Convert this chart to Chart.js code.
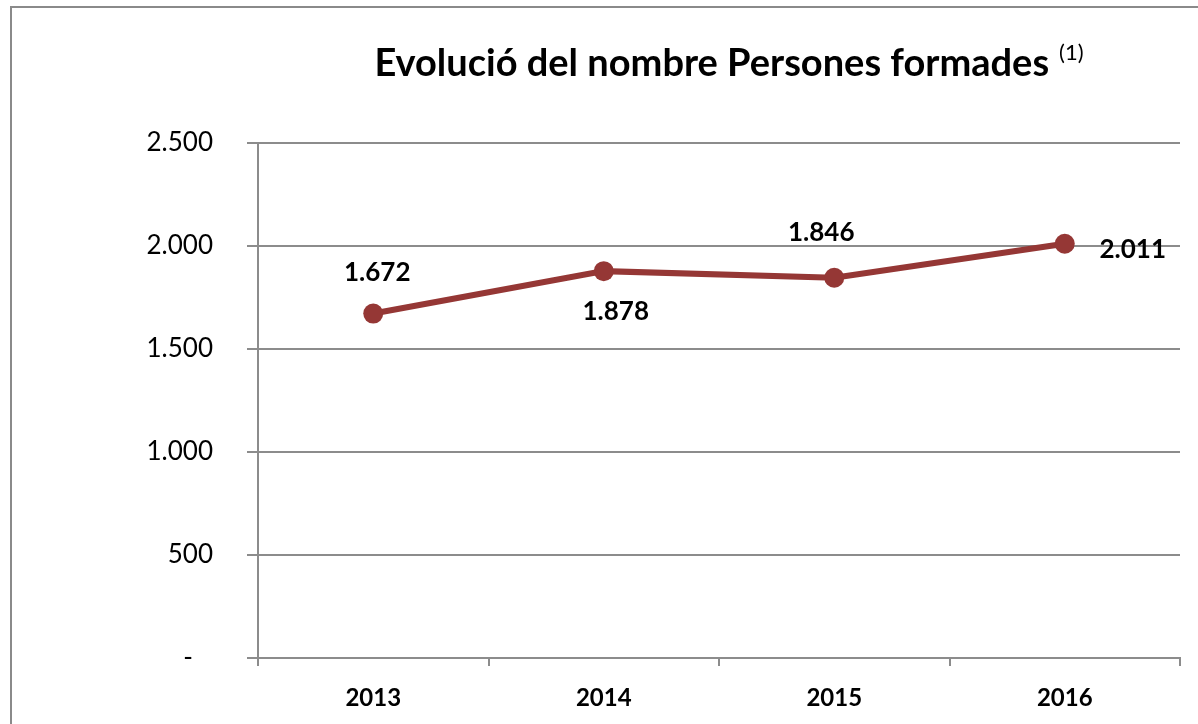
<!DOCTYPE html>
<html>
<head>
<meta charset="utf-8">
<script src="https://cdn.jsdelivr.net/npm/chart.js@4.4.1/dist/chart.umd.min.js"></script>
<style>
  html, body { margin: 0; padding: 0; background: #fff; overflow: hidden; }
  .frame { position: absolute; left: 10px; top: 6px; width: 1210px; height: 740px; border: 2px solid #8a8a8a; }
  .wrap { position: absolute; left: 0; top: 0; width: 1198px; height: 724px; }
</style>
</head>
<body>
<div class="frame"></div>
<div class="wrap"><canvas id="chart"></canvas></div>
<script>
const years = ['2013', '2014', '2015', '2016']
const persones = [1672, 1878, 1846, 2011]
const titleText = 'Evolució del nombre Persones formades'
const titleNote = '(1)'

// where each value label sits relative to its point
const labelOffsets = [[4, -41], [12, 40], [-13, -45], [68, 6]]

const FONT = 'Lato, "Open Sans", sans-serif'
const LINE_COLOR = '#953735'

const fmt = (v) => v.toString().replace(/\B(?=(\d{3})+(?!\d))/g, '.')

const titlePlugin = {
    id: 'titleWithNote',
    afterDraw (chart) {
        const ctx = chart.ctx
        const area = chart.chartArea
        ctx.save()
        ctx.fillStyle = '#000'
        ctx.textBaseline = 'alphabetic'
        ctx.font = 'bold 38px ' + FONT
        const w1 = ctx.measureText(titleText).width + 10
        ctx.font = '22px ' + FONT
        const w2 = ctx.measureText(titleNote).width
        const cx = (area.left + area.right) / 2 + 10
        const x0 = cx - (w1 + w2) / 2
        ctx.textAlign = 'left'
        ctx.font = 'bold 38px ' + FONT
        ctx.fillText(titleText, x0, 76)
        ctx.font = '22px ' + FONT
        ctx.fillText(titleNote, x0 + w1, 60)
        ctx.restore()
    }
}

const valueLabels = {
    id: 'valueLabels',
    afterDatasetsDraw (chart) {
        const ctx = chart.ctx
        const meta = chart.getDatasetMeta(0)
        ctx.save()
        ctx.font = 'bold 26px ' + FONT
        ctx.fillStyle = '#000'
        ctx.textAlign = 'center'
        ctx.textBaseline = 'middle'
        meta.data.forEach((pt, i) => {
            const off = labelOffsets[i]
            ctx.fillText(fmt(persones[i]), pt.x + off[0], pt.y + off[1])
        })
        ctx.restore()
    }
}

new Chart(document.getElementById('chart'), {
    type: 'line',
    data: {
        labels: years,
        datasets: [{
            label: 'Persones formades',
            data: persones,
            borderColor: LINE_COLOR,
            backgroundColor: LINE_COLOR,
            borderWidth: 6,
            pointRadius: 10,
            pointHoverRadius: 10,
            pointBorderWidth: 0,
            tension: 0
        }]
    },
    options: {
        responsive: true,
        maintainAspectRatio: false,
        animation: false,
        layout: { padding: { top: 143, right: 18, left: 0, bottom: 0 } },
        plugins: {
            legend: { display: false },
            title: { display: false },
            tooltip: { enabled: false }
        },
        scales: {
            y: {
                min: 0,
                max: 2500,
                ticks: {
                    stepSize: 500,
                    padding: 34,
                    color: '#000',
                    font: { family: FONT, size: 26 },
                    callback: (v) => v === 0 ? '-   ' : fmt(v)
                },
                grid: { color: '#8c8c8c', lineWidth: 2, tickLength: 11 },
                border: { color: '#8c8c8c', width: 2 },
                afterFit: (s) => { s.width = 258 }
            },
            x: {
                offset: true,
                ticks: {
                    padding: 18,
                    color: '#000',
                    font: { family: FONT, size: 24, weight: 'bold' }
                },
                grid: { offset: true, drawOnChartArea: false, color: '#8c8c8c', lineWidth: 2, tickLength: 8 },
                border: { color: '#8c8c8c', width: 2 },
                afterFit: (s) => { s.height = 66 }
            }
        }
    },
    plugins: [titlePlugin, valueLabels]
})
</script>
</body>
</html>
